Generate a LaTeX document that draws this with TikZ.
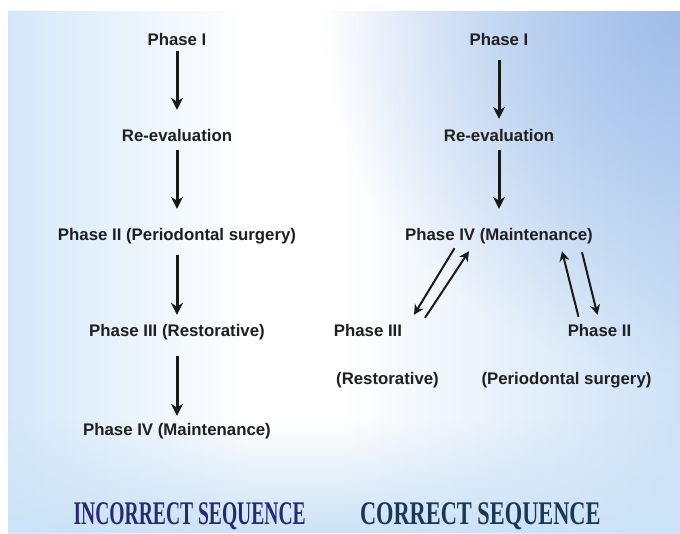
\documentclass[tikz,border=0pt]{standalone}
\usepackage{fontspec}
\newfontfamily\phasefont{Liberation Sans}
\newfontfamily\incfont[FakeStretch=0.593]{Liberation Serif}
\newfontfamily\corfont[FakeStretch=0.678]{Liberation Serif}
\usetikzlibrary{arrows.meta,calc,fadings}

\definecolor{skytl}{RGB}{212,232,249}
\definecolor{skytr}{RGB}{160,189,233}
\definecolor{skybr}{RGB}{206,226,246}
\definecolor{skyband}{RGB}{204,226,246}
\definecolor{incblue}{RGB}{40,42,112}
\definecolor{corblue}{RGB}{26,56,86}
\tikzfading[name=cornerglow, inner color=transparent!0, outer color=transparent!100]

\begin{document}
\begin{tikzpicture}[x=1pt,y=-1pt,
  phase/.style={font=\phasefont\bfseries\fontsize{16.8}{20}\selectfont,
    text=black!88, inner sep=0pt, text height=12pt, text depth=0pt},
  seqtitle/.style={font=\bfseries\fontsize{33}{36}\selectfont,
    inner sep=0pt, text height=22pt, text depth=0pt},
  down/.style={-{Stealth[length=12pt,width=12pt]}, line width=3pt, black!90},
  slant/.style={-{Stealth[length=10pt,width=10pt]}, line width=2pt, black!90}]

% background
\useasboundingbox (0,0) rectangle (680,533);
\fill[white] (0,0) rectangle (680,533);
\begin{scope}
  \clip (8,11) rectangle (680,533);
  \shade[left color=skytl, right color=white] (8,11) rectangle (250,533);
  \shade[left color=white, right color=skybr] (340,11) rectangle (680,533);
  \fill[skytr, path fading=cornerglow] (680,11) circle (360);
  \fill[skyband, path fading=north] (8,420) rectangle (680,533);
\end{scope}

% incorrect sequence
\node[phase] (p1) at (177,39) {Phase I};
\node[phase] (re) at (177,135) {Re-evaluation};
\node[phase] (p2) at (177,234) {Phase II (Periodontal surgery)};
\node[phase] (p3) at (177,330) {Phase III (Restorative)};
\node[phase] (p4) at (177,429) {Phase IV (Maintenance)};

\draw[down, shorten <=6pt, shorten >=19pt] (p1) -- (re);
\draw[down, shorten <=9pt, shorten >=19pt] (re) -- (p2);
\draw[down, shorten <=15pt, shorten >=9pt] (p2) -- (p3);
\draw[down, shorten <=20pt, shorten >=7pt] (p3) -- (p4);

% correct sequence
\node[phase] (q1) at (499,39) {Phase I};
\node[phase] (qre) at (499,135) {Re-evaluation};
\node[phase] (q4) at (499,234) {Phase IV (Maintenance)};
\node[phase] (q3) at (368,330) {Phase III};
\node[phase] (q3b) at (387.5,378) {(Restorative)};
\node[phase] (q2) at (599.5,330) {Phase II};
\node[phase] (q2b) at (566.5,378) {(Periodontal surgery)};

\draw[down, shorten <=14.5pt, shorten >=10pt] (q1) -- (qre);
\draw[down, shorten <=9pt, shorten >=19pt] (qre) -- (q4);

% back and forth
\draw[slant] ($(q4.south)+(-44.5,8)$) -- ($(q3.north)+(46,-9)$);
\draw[slant] ($(q3.north)+(57,-6)$) -- ($(q4.south)+(-30,11)$);
\draw[slant] ($(q2.north)+(-21,-7)$) -- ($(q4.south)+(63,11)$);
\draw[slant] ($(q4.south)+(83,12)$) -- ($(q2.north)+(-2,-9)$);

% titles
\node[seqtitle, text=incblue] (inc) at (189.7,513) {\incfont INCORRECT SEQUENCE};
\node[seqtitle, text=corblue] (cor) at (480.3,513) {\corfont CORRECT SEQUENCE};

\end{tikzpicture}
\end{document}
